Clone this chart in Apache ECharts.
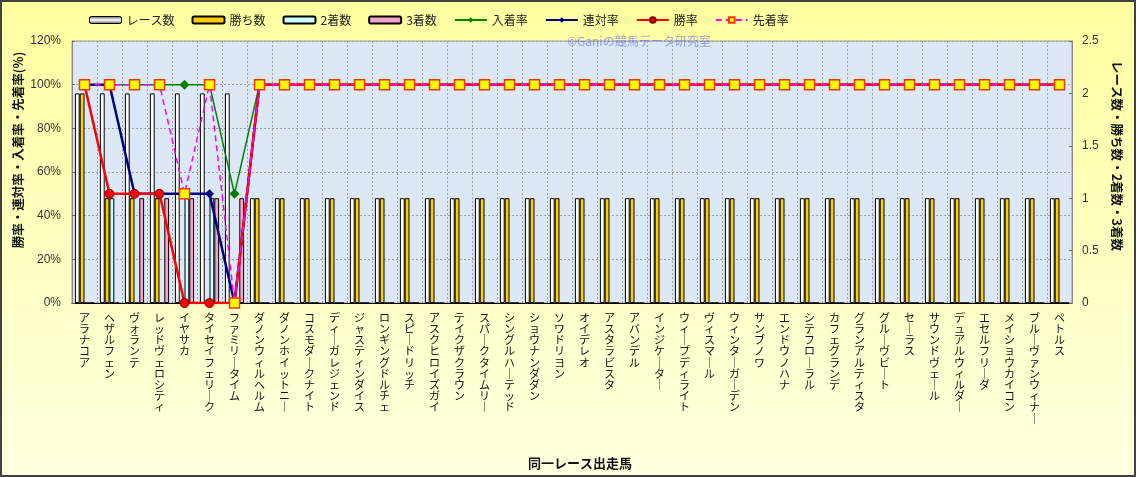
<!DOCTYPE html>
<html><head><meta charset="utf-8">
<script src="https://cdn.jsdelivr.net/npm/echarts@6/dist/echarts.min.js"></script>
<style>html,body{margin:0;padding:0;}#c{width:1136px;height:477px;}</style>
</head><body><div id="c"></div>
<script>
const horses = ['アラナコア','ヘザルフェン','ヴォランテ','レッドヴェロシティ','イヤサカ','タイセイフェリーク','ファミリータイム','ダノンウィルヘルム','ダノンホイットニー','コスモダークナイト','ディーガレジェンド','ジャスティンダイス','ロンギングドルチェ','スピードリッチ','アスクヒロイズガイ','テイクザクラウン','スパークタイムリー','シングルハーテッド','ショウナンダダン','ソワドリヨン','オイデレオ','アスタラビスタ','アバンデル','インジケーター','ウィープディライト','ヴィスマール','ウィンターガーデン','サンブノワ','エンドウノハナ','シテフローラル','カフェグランデ','グランアルティスタ','グルーヴビート','セーラス','サウンドヴェール','デュアルウィルダー','エセルフリーダ','メイショウカイコン','ブルーヴァンウィナー','ペトルス'];
const races  = [2,2,2,2,2,2,2,1,1,1,1,1,1,1,1,1,1,1,1,1,1,1,1,1,1,1,1,1,1,1,1,1,1,1,1,1,1,1,1,1];
const wins   = [2,1,1,1,0,0,0,1,1,1,1,1,1,1,1,1,1,1,1,1,1,1,1,1,1,1,1,1,1,1,1,1,1,1,1,1,1,1,1,1];
const second = [0,1,0,0,1,1,0,0,0,0,0,0,0,0,0,0,0,0,0,0,0,0,0,0,0,0,0,0,0,0,0,0,0,0,0,0,0,0,0,0];
const third  = [0,0,1,1,1,1,1,0,0,0,0,0,0,0,0,0,0,0,0,0,0,0,0,0,0,0,0,0,0,0,0,0,0,0,0,0,0,0,0,0];
const placeRate  = [100,100,100,100,100,100,50,100,100,100,100,100,100,100,100,100,100,100,100,100,100,100,100,100,100,100,100,100,100,100,100,100,100,100,100,100,100,100,100,100];
const rentaiRate = [100,100,50,50,50,50,0,100,100,100,100,100,100,100,100,100,100,100,100,100,100,100,100,100,100,100,100,100,100,100,100,100,100,100,100,100,100,100,100,100];
const winRate    = [100,50,50,50,0,0,0,100,100,100,100,100,100,100,100,100,100,100,100,100,100,100,100,100,100,100,100,100,100,100,100,100,100,100,100,100,100,100,100,100];
const aheadRate  = [100,100,100,100,50,100,0,100,100,100,100,100,100,100,100,100,100,100,100,100,100,100,100,100,100,100,100,100,100,100,100,100,100,100,100,100,100,100,100,100];
const leftTicks = {min:0,max:120,interval:20};
const rightTicks = {min:0,max:2.5,interval:0.5};

const FONT = '"Noto Sans CJK JP", sans-serif';
const chart = echarts.init(document.getElementById('c'), null, {renderer:'canvas'});
const barBorder = {borderColor:'#000', borderWidth:1};
const grayGrad = {type:'linear',x:0,y:0,x2:0,y2:1,colorStops:[{offset:0,color:'#555'},{offset:0.5,color:'#fff'},{offset:1,color:'#555'}]};
chart.setOption({
  backgroundColor:{type:'linear',x:0,y:0,x2:0,y2:1,colorStops:[{offset:0,color:'#FFFFA0'},{offset:1,color:'#FFFFE0'}]},
  animation:false,
  textStyle:{fontFamily:FONT},
  legend:{
    left:84, top:9, itemWidth:32, itemHeight:7, itemGap:17,
    textStyle:{fontSize:12,color:'#222',fontFamily:FONT},
    data:[
      {name:'レース数',itemStyle:{color:grayGrad,borderColor:'#000',borderWidth:1}},
      {name:'勝ち数'},{name:'2着数'},{name:'3着数'},
      {name:'入着率'},{name:'連対率'},{name:'勝率'},{name:'先着率'}
    ]
  },
  grid:{left:72,right:64,top:41,bottom:174,show:true,backgroundColor:'#DCE8F6',borderColor:'#9a9a9a',borderWidth:1},
  xAxis:{
    type:'category', data:horses, boundaryGap:true,
    axisLine:{lineStyle:{color:'#000'}},
    axisTick:{show:false},
    splitLine:{show:true,interval:0,lineStyle:{color:'#a0a0a0',type:[2,2],width:1}},
    axisLabel:{interval:0,margin:9,fontSize:11,lineHeight:11.2,color:'#111',verticalAlign:'top',
      formatter:v=>v.replace(/ー/g,'｜').split('').join('\n')}
  },
  yAxis:[
    {type:'value',min:leftTicks.min,max:leftTicks.max,interval:leftTicks.interval,
     axisLine:{show:true,lineStyle:{color:'#888'}},axisTick:{show:true,inside:true,length:3,lineStyle:{color:'#666'}},
     axisLabel:{formatter:'{value}%',fontSize:12,color:'#333',margin:11,fontFamily:'"Liberation Sans", Arial, sans-serif'},
     splitLine:{show:true,lineStyle:{color:'#a0a0a0',type:[2,2]}}},
    {type:'value',min:rightTicks.min,max:rightTicks.max,interval:rightTicks.interval,
     axisLine:{show:true,lineStyle:{color:'#888'}},axisTick:{show:true,inside:true,length:3,lineStyle:{color:'#666'}},
     axisLabel:{fontSize:12,color:'#333',margin:10,fontFamily:'"Liberation Sans", Arial, sans-serif'},
     splitLine:{show:false}}
  ],
  series:[
    {name:'レース数',type:'bar',yAxisIndex:1,data:races,barWidth:4.8,barGap:'0%',itemStyle:Object.assign({color:'#FFFFFF'},barBorder)},
    {name:'勝ち数',type:'bar',yAxisIndex:1,data:wins,barWidth:4.8,barGap:'0%',itemStyle:Object.assign({color:'#FFCC00'},barBorder)},
    {name:'2着数',type:'bar',yAxisIndex:1,data:second,barWidth:4.8,barGap:'0%',itemStyle:Object.assign({color:'#CCFFFF'},barBorder)},
    {name:'3着数',type:'bar',yAxisIndex:1,data:third,barWidth:4.8,barGap:'0%',itemStyle:Object.assign({color:'#F4A3CC'},barBorder)},
    {name:'入着率',type:'line',yAxisIndex:0,data:placeRate,symbol:'diamond',symbolSize:10,
     lineStyle:{color:'#008000',width:1.5},itemStyle:{color:'#008000'}},
    {name:'連対率',type:'line',yAxisIndex:0,data:rentaiRate,symbol:'diamond',symbolSize:9,
     lineStyle:{color:'#000080',width:2.5},itemStyle:{color:'#000080'}},
    {name:'勝率',type:'line',yAxisIndex:0,data:winRate,symbol:'circle',symbolSize:9,
     lineStyle:{color:'#FF0000',width:2.5},itemStyle:{color:'#FF0000',borderColor:'#800000',borderWidth:1}},
    {name:'先着率',type:'line',yAxisIndex:0,data:aheadRate,symbol:'rect',symbolSize:10,
     lineStyle:{color:'#FF00FF',width:1.5,type:[6,4]},itemStyle:{color:'#FFFF00',borderColor:'#FF3300',borderWidth:1.5}}
  ],
  graphic:[
    {type:'text',left:567,top:35,z:100,style:{text:'©Ganiの競馬データ研究室',fill:'rgba(110,110,235,0.65)',font:'12px '+FONT}},
    {type:'text',x:18,y:150,rotation:Math.PI/2,style:{text:'勝率・連対率・入着率・先着率(%)',fill:'#111',font:'bold 12.5px '+FONT,align:'center',verticalAlign:'middle'}},
    {type:'text',x:1117,y:156,rotation:-Math.PI/2,style:{text:'レース数・勝ち数・2着数・3着数',fill:'#111',font:'bold 12.5px '+FONT,align:'center',verticalAlign:'middle'}},
    {type:'text',x:580,y:463,style:{text:'同一レース出走馬',fill:'#111',font:'bold 13px '+FONT,align:'center',verticalAlign:'middle'}},
    {type:'rect',silent:true,z:200,shape:{x:1,y:1,width:1134,height:475},style:{fill:null,stroke:'#404040',lineWidth:2}}
  ]
});
</script></body></html>
